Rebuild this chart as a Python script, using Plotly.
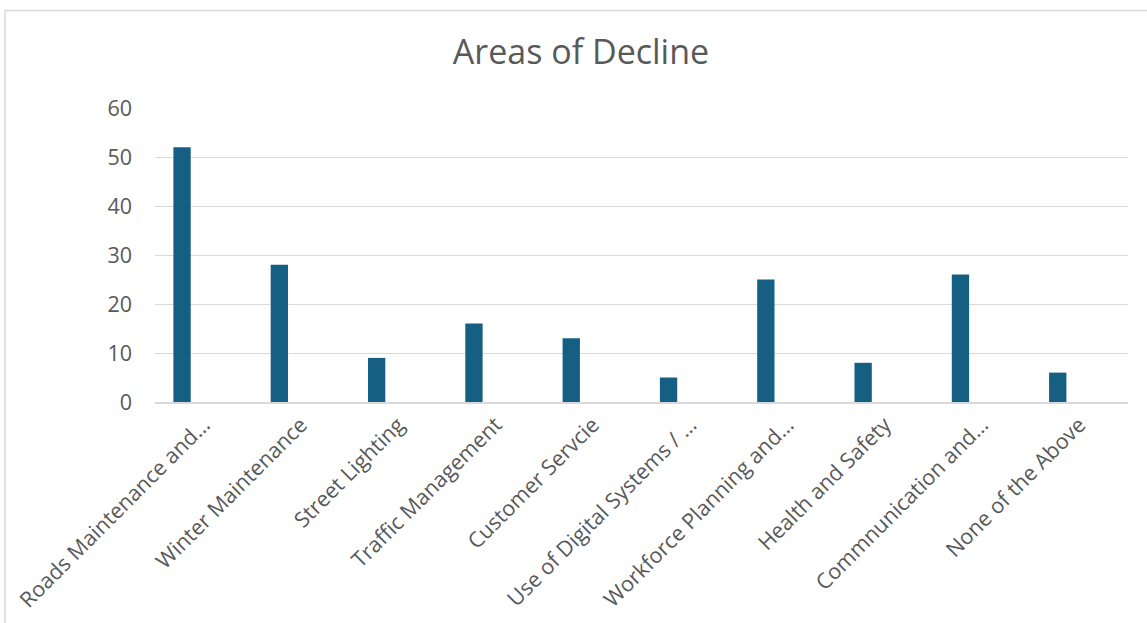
import plotly.graph_objects as go

categories = [
    "Roads Maintenance and…",
    "Winter Maintenance",
    "Street Lighting",
    "Traffic Management",
    "Customer Servcie",
    "Use of Digital Systems / …",
    "Workforce Planning and…",
    "Health and Safety",
    "Commnunication and…",
    "None of the Above",
]
values = [52, 28, 9, 16, 13, 5, 25, 8, 26, 6]
y_ticks = [0, 10, 20, 30, 40, 50, 60]

W, H = 1147, 623
L, R, T, B = 155, 1128, 108, 402

text_color = "#595959"
grid_color = "#D9D9D9"
font_family = "Open Sans, Liberation Sans, Arial, sans-serif"

fig = go.Figure()
fig.add_trace(go.Bar(
    x=categories,
    y=values,
    width=0.178,
    offset=-0.311,
    marker=dict(color="#156082", line=dict(width=0)),
    hoverinfo="x+y",
))

pw = R - L
ph = B - T
fig.add_shape(
    type="rect", xref="paper", yref="paper",
    x0=(5 - L) / pw, x1=(W + 5 - L) / pw,
    y0=(B - (H + 10)) / ph, y1=1 + (T - 10.5) / ph,
    line=dict(color="#D9D9D9", width=1.5),
    fillcolor="rgba(0,0,0,0)",
    layer="below",
)

fig.update_layout(
    width=W, height=H,
    margin=dict(l=L, r=W - R, t=T, b=H - B, autoexpand=False),
    paper_bgcolor="white",
    plot_bgcolor="white",
    showlegend=False,
    font=dict(family=font_family, color=text_color),
    title=dict(
        text="Areas of Decline",
        font=dict(size=34, color=text_color, family=font_family),
        xref="container", yref="container",
        x=581 / W, xanchor="center",
        y=1 - 52 / H, yanchor="middle",
    ),
    xaxis=dict(
        type="category",
        range=[-0.5, 9.5],
        tickangle=-45,
        tickfont=dict(size=21.5, color=text_color),
        showgrid=False,
        showline=True,
        linecolor=grid_color,
        linewidth=1.5,
        ticks="",
        automargin=False,
    ),
    yaxis=dict(
        range=[0, 60],
        tickvals=y_ticks,
        tickfont=dict(size=21.5, color=text_color),
        showgrid=True,
        gridcolor=grid_color,
        gridwidth=1.2,
        zeroline=False,
        showline=False,
        ticks="",
        ticklabelstandoff=22,
        automargin=False,
    ),
)

fig.write_html("out.html")
